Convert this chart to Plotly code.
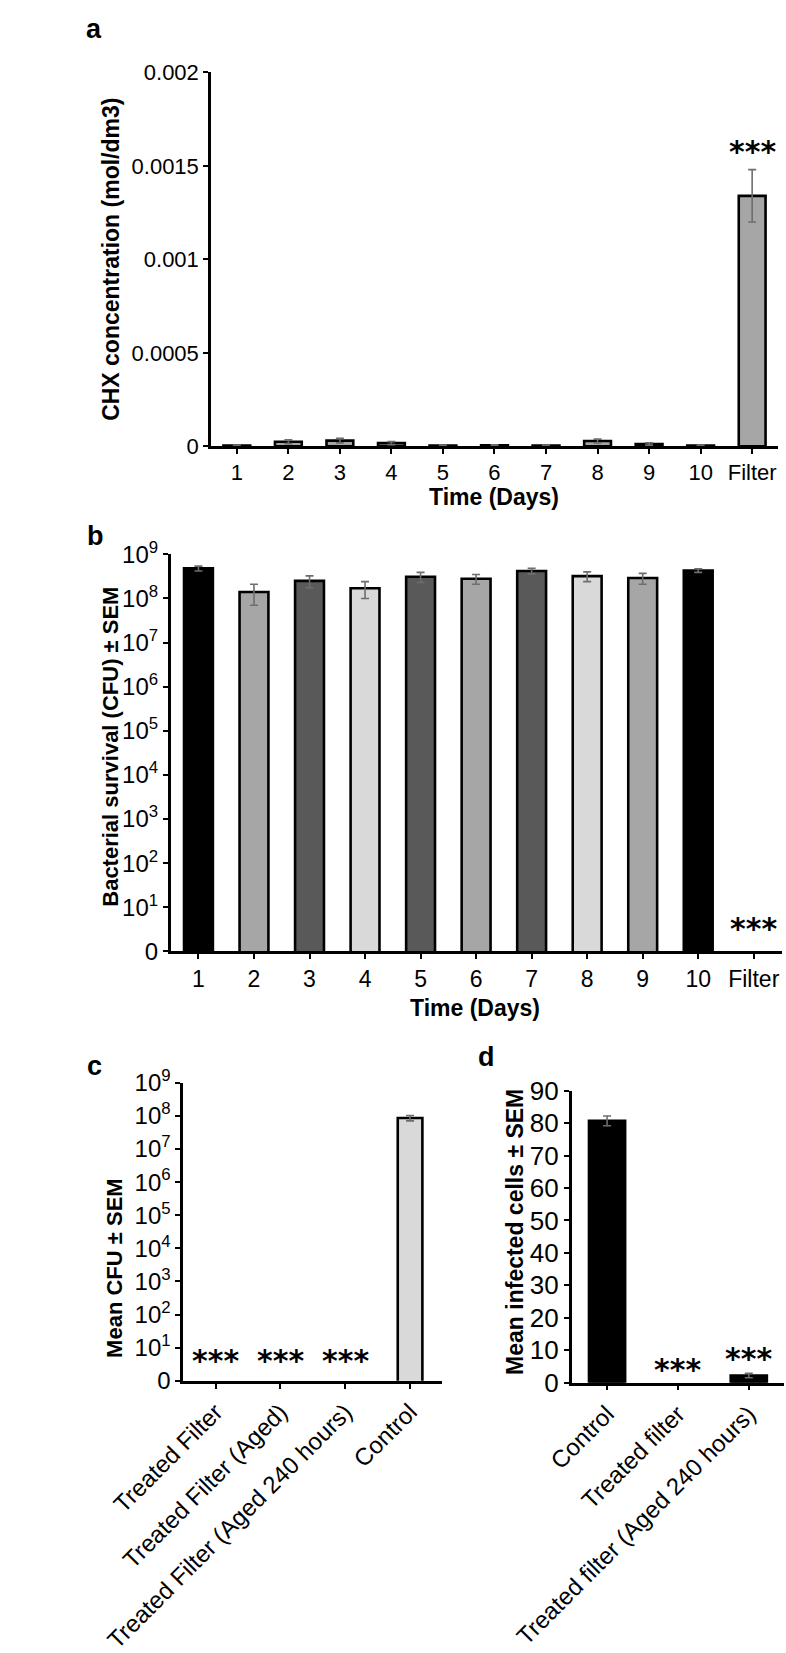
import plotly.graph_objects as go

W, H = 786, 1653
FONT = "Liberation Sans, Arial, sans-serif"
STARFONT = "DejaVu Sans, sans-serif"

# ---------------- data ----------------
days = ["1", "2", "3", "4", "5", "6", "7", "8", "9", "10", "Filter"]

chx_mean = [0.000004, 0.000024, 0.00003, 0.000017, 0.000004, 0.000005,
            0.000004, 0.000028, 0.000012, 0.000004, 0.00134]
chx_sem = [0.000002, 0.00001, 0.000012, 0.000008, 0.000002, 0.000003,
           0.000002, 0.00001, 0.000006, 0.000002, 0.00014]

cfu_mean = [4.8e8, 1.4e8, 2.5e8, 1.7e8, 3.1e8, 2.8e8, 4.2e8, 3.2e8, 2.9e8, 4.3e8, None]
cfu_sem = [0.6e8, 0.7e8, 0.75e8, 0.7e8, 0.8e8, 0.7e8, 0.6e8, 0.8e8, 0.8e8, 0.4e8, None]
cfu_colors = ["#000000", "#a6a6a6", "#595959", "#d9d9d9", "#595959", "#a6a6a6",
              "#595959", "#d9d9d9", "#a6a6a6", "#000000", "#ffffff"]

c_cats = ["Treated Filter", "Treated Filter (Aged)", "Treated Filter (Aged 240 hours)", "Control"]
c_mean = [None, None, None, 8.7e7]
c_sem = [None, None, None, 1.6e7]

d_cats = ["Control", "Treated filter", "Treated filter (Aged 240 hours)"]
d_mean = [80.7, None, 2.2]
d_sem = [1.5, None, 0.7]

log_ticks = [1, 10, 1e2, 1e3, 1e4, 1e5, 1e6, 1e7, 1e8, 1e9]
log_text = ["0"] + ["10<sup>%d</sup>" % i for i in range(1, 10)]


def X(px):
    return px / W


def Y(py):
    return 1 - py / H


ERR = dict(type="data", color="#6e6e6e", thickness=1.6, width=4, visible=True)
LINE = dict(color="black", width=2.6)

fig = go.Figure()

# panel a
fig.add_trace(go.Bar(x=days, y=chx_mean, width=0.52,
                     error_y=dict(ERR, array=chx_sem),
                     marker=dict(color="#a6a6a6", line=LINE),
                     xaxis="x", yaxis="y"))
# panel b
fig.add_trace(go.Bar(x=days, y=cfu_mean, width=0.52,
                     error_y=dict(ERR, array=cfu_sem),
                     marker=dict(color=cfu_colors, line=LINE),
                     xaxis="x2", yaxis="y2"))
# panel c
fig.add_trace(go.Bar(x=c_cats, y=c_mean, width=0.38,
                     error_y=dict(ERR, array=c_sem),
                     marker=dict(color="#d9d9d9", line=LINE),
                     xaxis="x3", yaxis="y3"))
# panel d
fig.add_trace(go.Bar(x=d_cats, y=d_mean, width=0.51,
                     error_y=dict(ERR, array=d_sem),
                     marker=dict(color="#000000", line=LINE),
                     xaxis="x4", yaxis="y4"))

axis_common = dict(showline=True, linecolor="black", linewidth=2.6, ticks="outside",
                   ticklen=5, tickwidth=2, tickcolor="black", showgrid=False,
                   zeroline=False, color="black", fixedrange=True)

fig.update_layout(
    width=W, height=H, margin=dict(l=0, r=0, t=0, b=0),
    paper_bgcolor="white", plot_bgcolor="white", showlegend=False,
    font=dict(family=FONT, color="black"),
    xaxis=dict(axis_common, domain=[X(145), X(777)], anchor="y", type="category",
               tickfont=dict(size=22)),
    yaxis=dict(axis_common, domain=[Y(441), Y(57)], anchor="x", range=[0, 0.002],
               tickvals=[0, 0.0005, 0.001, 0.0015, 0.002],
               ticktext=["0", "0.0005", "0.001", "0.0015", "0.002"],
               tickfont=dict(size=22)),
    xaxis2=dict(axis_common, domain=[X(100), X(781)], anchor="y2", type="category",
                tickfont=dict(size=23)),
    yaxis2=dict(axis_common, domain=[Y(960), Y(552)], anchor="x2", type="log",
                range=[0, 9], tickvals=log_ticks, ticktext=log_text,
                tickfont=dict(size=24)),
    xaxis3=dict(axis_common, domain=[X(114), X(403)], anchor="y3", type="category",
                tickangle=-45, tickfont=dict(size=24)),
    yaxis3=dict(axis_common, domain=[Y(1401), Y(1095)], anchor="x3", type="log",
                range=[0, 9], tickvals=log_ticks, ticktext=log_text,
                tickfont=dict(size=24)),
    xaxis4=dict(axis_common, domain=[X(547), X(784)], anchor="y4", type="category",
                tickangle=-45, tickfont=dict(size=24)),
    yaxis4=dict(axis_common, domain=[Y(1403), Y(1103)], anchor="x4", range=[0, 90],
                tickvals=list(range(0, 100, 10)), tickfont=dict(size=26)),
)

ann = []


def label(text, px, py, size, bold=True, angle=0):
    ann.append(dict(text="<b>%s</b>" % text if bold else text, x=X(px), y=Y(py),
                    xref="paper", yref="paper", showarrow=False, textangle=angle,
                    xanchor="center", yanchor="middle",
                    font=dict(size=size, family=FONT, color="black")))


# panel letters
label("a", 14, 12, 27)
label("b", 16, 533, 27)
label("c", 15, 1078, 27)
label("d", 452, 1068, 27)

# axis titles
label("CHX concentration (mol/dm3)", 34, 249, 23, angle=-90)
label("Time (Days)", 460, 493, 23)
label("Bacterial survival (CFU) ± SEM", 32, 750, 22, angle=-90)
label("Time (Days)", 439, 1018, 23)
label("Mean CFU ± SEM", 38, 1285, 22, angle=-90)
label("Mean infected cells ± SEM", 484, 1248, 23, angle=-90)

STAR = dict(size=30, family=STARFONT, color="black")


def stars(xref, yref, xv, yv, shift):
    ann.append(dict(text="<b>***</b>", x=xv, y=yv, xref=xref, yref=yref,
                    showarrow=False, xanchor="center", yanchor="bottom",
                    yshift=shift, font=STAR))


stars("x", "y", days[-1], chx_mean[-1] + chx_sem[-1], -1)
stars("x2", "y2", days[-1], 0, 3)
for cat in c_cats[:3]:
    stars("x3", "y3", cat, 0, 1)
stars("x4", "y4", d_cats[1], 0, -6)
stars("x4", "y4", d_cats[2], d_mean[2] + d_sem[2], -5)

fig.update_layout(annotations=ann)
fig.write_html("out.html", config={"displayModeBar": False},
               post_script="document.body.style.margin='0';")
